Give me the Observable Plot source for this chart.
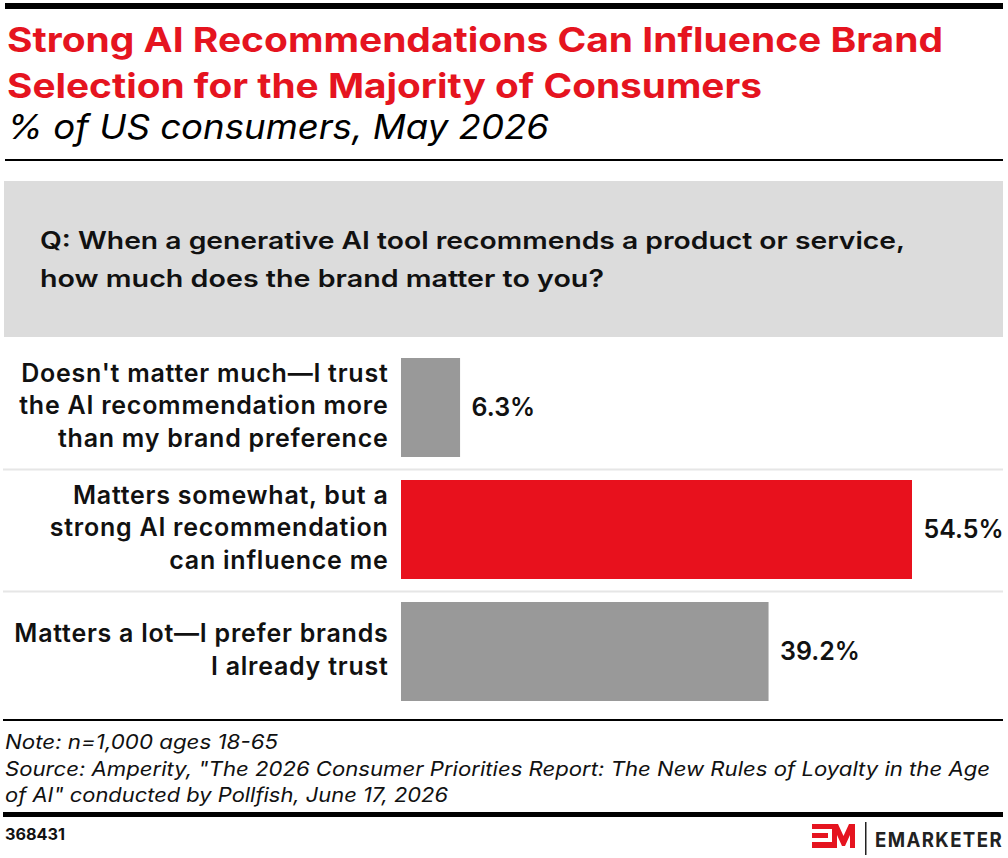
<!DOCTYPE html>
<html>
<head>
<meta charset="utf-8">
<script src="https://cdn.jsdelivr.net/npm/d3@7"></script>
<script src="https://cdn.jsdelivr.net/npm/@observablehq/plot@0.6"></script>
<style>
  html, body { margin: 0; padding: 0; background: #fff; }
  #page { position: relative; width: 1008px; height: 858px; overflow: hidden;
          font-family: Inter, Lato, "Noto Sans", sans-serif; color: #111; }
  .abs { position: absolute; white-space: nowrap; }
  .fit { transform-origin: 0 0; }
  .rule { position: absolute; background: #000; }
  .title { color: #e5141f; font-weight: 700; font-size: 34px; line-height: 46px; left: 7px; }
  .sub { font-style: italic; font-weight: 400; font-size: 34px; line-height: 40px; left: 7px; color: #000; }
  .q { font-weight: 600; font-size: 24px; line-height: 38px; left: 40px; color: #111; }
  .note { font-style: italic; font-weight: 400; font-size: 20px; line-height: 26px; left: 5px; color: #111; }
  #chart { position: absolute; left: 0; top: 340px; }
</style>
</head>
<body>
<div id="page">
  <div class="rule" style="left:5px;top:3px;width:998px;height:6px"></div>
  <div class="abs title fit" data-w="936" style="top:17px">Strong AI Recommendations Can Influence Brand</div>
  <div class="abs title fit" data-w="755" style="top:63px">Selection for the Majority of Consumers</div>
  <div class="abs sub fit" data-w="542" style="top:107px">% of US consumers, May 2026</div>
  <div class="rule" style="left:5px;top:159px;width:998px;height:2px"></div>

  <div class="abs" style="left:4px;top:181px;width:999px;height:156px;background:#dcdcdc"></div>
  <div class="abs q fit" data-w="865" style="top:222px">Q: When a generative AI tool recommends a product or service,</div>
  <div class="abs q fit" data-w="564" style="top:260px">how much does the brand matter to you?</div>

  <div id="chart"></div>

  <div class="rule" style="left:3px;top:719px;width:1000px;height:2px"></div>
  <div class="abs note fit" data-w="273" style="top:729px">Note: n=1,000 ages 18-65</div>
  <div class="abs note fit" data-w="985" style="top:756px">Source: Amperity, "The 2026 Consumer Priorities Report: The New Rules of Loyalty in the Age</div>
  <div class="abs note fit" data-w="443" style="top:782px">of AI" conducted by Pollfish, June 17, 2026</div>
  <div class="rule" style="left:3px;top:812px;width:1000px;height:5px"></div>
  <div class="abs fit" data-w="60" style="left:5px;top:824px;font-weight:700;font-size:16px;line-height:20px">368431</div>

  <svg class="abs" style="left:808px;top:818px" width="200" height="40" viewBox="808 818 200 40">
    <g fill="#e5141f">
      <rect x="812" y="824" width="22" height="5"/>
      <rect x="812" y="833" width="16" height="5"/>
      <rect x="812" y="842" width="22" height="6"/>
      <polygon points="832,824 838,824 843.5,836 849,824 855,824 855,848 850,848 850,835 845,846 842,846 837,835 837,848 832,848"/>
    </g>
    <rect x="865" y="822" width="1.5" height="33" fill="#222"/>
  </svg>
  <div class="abs fit" data-w="128" style="left:875px;top:829px;font-weight:700;font-size:20px;line-height:22px;letter-spacing:1.5px;color:#222">EMARKETER</div>
</div>

<script>
// Survey answers (y categories, with manual line breaks) and shares of respondents (%)
const categories = [
  "Doesn't matter much—I trust\nthe AI recommendation more\nthan my brand preference",
  "Matters somewhat, but a\nstrong AI recommendation\ncan influence me",
  "Matters a lot—I prefer brands\nI already trust"
];
const shares = [6.3, 54.5, 39.2];
const highlighted = categories[1];

const rows = categories.map((label, i) => ({label, value: shares[i]}));

const red = "#e8111d";
const gray = "#999999";
const font = "Inter, Lato, 'Noto Sans', sans-serif";

const chart = Plot.plot({
  width: 1008,
  height: 380,
  marginLeft: 3,
  marginRight: 5,
  marginTop: 0,
  marginBottom: 0,
  style: {fontFamily: font, background: "transparent", overflow: "visible"},
  x: {domain: [0, d3.max(shares)], range: [401, 912], axis: null},
  y: {domain: categories, range: [18, 361], paddingInner: 23 / 122, paddingOuter: 0, round: false, axis: null},
  marks: [
    // light separators between the answer rows
    Plot.ruleY(categories.slice(1), {stroke: "#e6e6e6", strokeWidth: 2, dy: -60.5}),
    Plot.barX(rows, {x: "value", y: "label", fill: d => d.label === highlighted ? red : gray}),
    // answer labels, right-aligned against the bars
    Plot.text(rows, {
      x: 0, y: "label", text: "label", textAnchor: "end", dx: -13, dy: -4,
      fontSize: 25, fontWeight: 600, lineHeight: 1.31, fill: "#111"
    }),
    // value labels at the bar ends
    Plot.text(rows, {
      x: "value", y: "label", text: d => d.value.toFixed(1) + "%", textAnchor: "start", dx: 11,
      fontSize: 25, fontWeight: 600, fill: "#111"
    })
  ]
});
document.getElementById("chart").append(chart);

// slightly open up the answer labels
const textGroups = chart.querySelectorAll('g[aria-label="text"]');
if (textGroups.length) textGroups[0].style.letterSpacing = "0.75px";

// squeeze or stretch headline/footer lines to their set widths
document.querySelectorAll(".fit").forEach(el => {
  const w = el.getBoundingClientRect().width;
  const target = +el.dataset.w;
  if (w > 0) el.style.transform = `scaleX(${target / w})`;
});
</script>
</body>
</html>
